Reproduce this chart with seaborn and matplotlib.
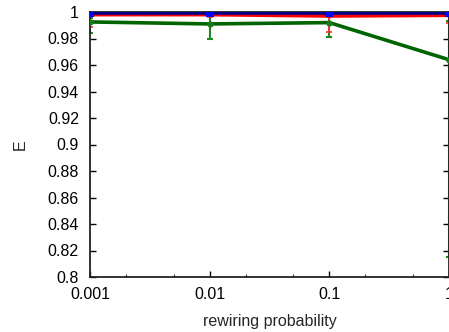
import matplotlib
matplotlib.use("Agg")
import matplotlib.pyplot as plt
import matplotlib.ticker as mticker
import seaborn as sns
import pandas as pd
import numpy as np

p = [0.001, 0.01, 0.1, 1.0]
blue_E = [0.9995, 0.9995, 0.9995, 0.9995]
blue_err = [0.0005, 0.0005, 0.0005, 0.0005]
red_E = [0.998, 0.998, 0.997, 0.9975]
red_err = [0.009, 0.002, 0.012, 0.006]
green_E = [0.9925, 0.991, 0.992, 0.964]
green_err_low = [0.0085, 0.0115, 0.0105, 0.149]
green_err_high = [0.003, 0.009, 0.008, 0.029]

sns.set_style("ticks")
plt.rcParams['font.family'] = ['Liberation Sans', 'DejaVu Sans']

fig = plt.figure(figsize=(4.49, 3.32), dpi=100)
ax = fig.add_axes([90/449, 1-277/332, 1-90/449, (277-12)/332])

df = pd.DataFrame({
    "p": p * 3,
    "E": blue_E + red_E + green_E,
    "series": ["blue"] * 4 + ["red"] * 4 + ["green"] * 4,
})

# error bars
ax.errorbar(p, green_E, yerr=[green_err_low, green_err_high], fmt="none",
            ecolor="#1a8a1a", elinewidth=1.5, capsize=2.5, capthick=1.5, zorder=2)
ax.errorbar(p, red_E, yerr=red_err, fmt="none", ecolor="#ff3030",
            elinewidth=1.2, capsize=2.5, capthick=1.2, zorder=2)

sns.lineplot(data=df[df.series == "green"], x="p", y="E", ax=ax, color="#006400",
             linewidth=2.6, marker="o", markersize=4.5, markeredgewidth=0,
             markerfacecolor="#1a7a1a", zorder=3)
sns.lineplot(data=df[df.series == "red"], x="p", y="E", ax=ax, color="#ff0000",
             linewidth=2.6, marker="s", markersize=3, markeredgewidth=0, zorder=4)
sns.lineplot(data=df[df.series == "blue"], x="p", y="E", ax=ax, color="#00008b",
             linewidth=2.6, marker="s", markersize=6, markeredgewidth=0,
             markerfacecolor="#0000ff", zorder=5)

ax.set_xscale("log")
ax.set_xlim(0.001, 1.0)
ax.set_ylim(0.8, 1.0)
ax.set_xticks([0.001, 0.01, 0.1, 1.0])
ax.set_xticklabels(["0.001", "0.01", "0.1", "1"])
ax.xaxis.set_minor_locator(mticker.LogLocator(base=10, subs=[2.0, 5.0]))
ax.xaxis.set_minor_formatter(mticker.NullFormatter())
ax.set_yticks(np.round(np.arange(0.8, 1.0001, 0.02), 2))
ax.set_yticklabels(["0.8", "0.82", "0.84", "0.86", "0.88", "0.9", "0.92",
                    "0.94", "0.96", "0.98", "1"])
ax.tick_params(axis="both", which="major", direction="in", length=4, width=1,
               labelsize=11.5, top=True, right=True, colors="black")
ax.tick_params(axis="y", which="major", pad=8)
ax.tick_params(axis="x", which="major", pad=7)
ax.tick_params(axis="x", which="minor", direction="in", length=2.5, width=0.8,
               top=True)
for s in ax.spines.values():
    s.set_linewidth(1.3)
    s.set_color("#222222")

ax.set_xlabel("rewiring probability", fontsize=11.5, labelpad=9)
ax.set_ylabel("E", fontsize=11.5, labelpad=14)
if ax.get_legend():
    ax.get_legend().remove()

fig.savefig("out.png", dpi=100)
